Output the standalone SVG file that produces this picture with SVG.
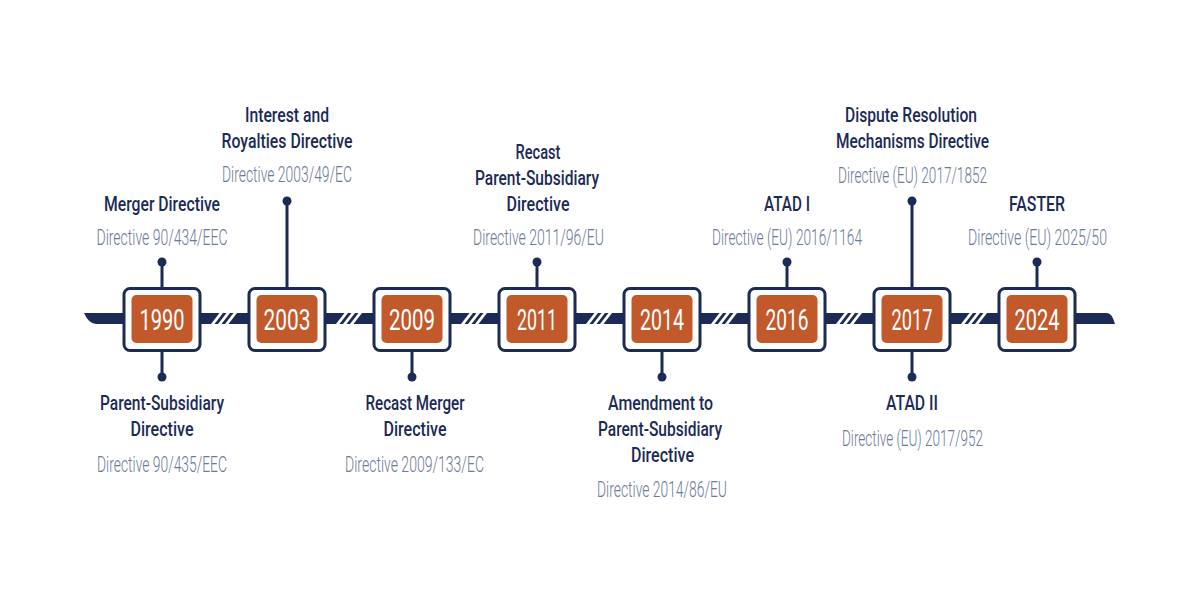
<svg xmlns="http://www.w3.org/2000/svg" xmlns:xlink="http://www.w3.org/1999/xlink" width="1200" height="600" viewBox="0 0 1200 600">
<style>
.box{fill:#ffffff;stroke:#1b2b55;stroke-width:3}
.inner{fill:#c2592b}
.year{font-family:Roboto,"Liberation Sans",sans-serif;font-size:30px;fill:#ffffff;text-anchor:middle}
.t{font-family:Roboto,"Liberation Sans",sans-serif;font-size:20px;font-weight:500;fill:#1b2b55;text-anchor:middle}
.s{font-family:Roboto,"Liberation Sans",sans-serif;font-size:22px;font-weight:300;fill:#6d7a9a;text-anchor:middle}
.stem{stroke:#1b2b55;stroke-width:3;fill:none}
.dot{fill:#1b2b55}
.bar{fill:#1b2b55}
.hatch{fill:#ffffff}
</style>
<defs>
<g id="hatch">
<polygon class="hatch" points="-13,324 -9.5,324 -1,313 -4.5,313"/>
<polygon class="hatch" points="-6,324 -2.5,324 6,313 2.5,313"/>
<polygon class="hatch" points="1,324 4.5,324 13,313 9.5,313"/>
</g>
</defs>
<rect width="1200" height="600" fill="#ffffff"/>
<g id="connectors">
<path class="bar" d="M84 313 H1107 Q1112 313 1115 324 H96 Q89 324 84 313 Z"/>
<use xlink:href="#hatch" x="224"/>
<use xlink:href="#hatch" x="349"/>
<use xlink:href="#hatch" x="474"/>
<use xlink:href="#hatch" x="599"/>
<use xlink:href="#hatch" x="724"/>
<use xlink:href="#hatch" x="849"/>
<use xlink:href="#hatch" x="974"/>
<line class="stem" x1="162" y1="262" x2="162" y2="288"/><circle class="dot" cx="162" cy="262" r="4.5"/>
<line class="stem" x1="162" y1="351" x2="162" y2="377"/><circle class="dot" cx="162" cy="377" r="4.5"/>
<line class="stem" x1="287" y1="201" x2="287" y2="288"/><circle class="dot" cx="287" cy="201" r="4.5"/>
<line class="stem" x1="412" y1="351" x2="412" y2="377"/><circle class="dot" cx="412" cy="377" r="4.5"/>
<line class="stem" x1="537" y1="262" x2="537" y2="288"/><circle class="dot" cx="537" cy="262" r="4.5"/>
<line class="stem" x1="662" y1="351" x2="662" y2="377"/><circle class="dot" cx="662" cy="377" r="4.5"/>
<line class="stem" x1="787" y1="262" x2="787" y2="288"/><circle class="dot" cx="787" cy="262" r="4.5"/>
<line class="stem" x1="912" y1="201" x2="912" y2="288"/><circle class="dot" cx="912" cy="201" r="4.5"/>
<line class="stem" x1="912" y1="351" x2="912" y2="377"/><circle class="dot" cx="912" cy="377" r="4.5"/>
<line class="stem" x1="1037" y1="262" x2="1037" y2="288"/><circle class="dot" cx="1037" cy="262" r="4.5"/>
</g>
<g id="n1990">
<rect class="box" x="124" y="288.5" width="76" height="62" rx="6"/>
<rect class="inner" x="131.5" y="295" width="61" height="48" rx="5"/>
<text class="year" x="162" y="330" textLength="45" lengthAdjust="spacingAndGlyphs">1990</text>
<text class="t" x="162" y="211" textLength="116" lengthAdjust="spacingAndGlyphs">Merger Directive</text>
<text class="s" x="162" y="245" textLength="131" lengthAdjust="spacingAndGlyphs">Directive 90/434/EEC</text>
<text class="t" x="162" y="410" textLength="124" lengthAdjust="spacingAndGlyphs">Parent-Subsidiary</text>
<text class="t" x="162" y="436" textLength="63" lengthAdjust="spacingAndGlyphs">Directive</text>
<text class="s" x="162" y="472" textLength="130" lengthAdjust="spacingAndGlyphs">Directive 90/435/EEC</text>
</g>
<g id="n2003">
<rect class="box" x="249" y="288.5" width="76" height="62" rx="6"/>
<rect class="inner" x="256.5" y="295" width="61" height="48" rx="5"/>
<text class="year" x="287" y="330" textLength="47" lengthAdjust="spacingAndGlyphs">2003</text>
<text class="t" x="287" y="122" textLength="84" lengthAdjust="spacingAndGlyphs">Interest and</text>
<text class="t" x="287" y="148" textLength="131" lengthAdjust="spacingAndGlyphs">Royalties Directive</text>
<text class="s" x="287" y="182" textLength="130" lengthAdjust="spacingAndGlyphs">Directive 2003/49/EC</text>
</g>
<g id="n2009">
<rect class="box" x="374" y="288.5" width="76" height="62" rx="6"/>
<rect class="inner" x="381.5" y="295" width="61" height="48" rx="5"/>
<text class="year" x="412" y="330" textLength="46" lengthAdjust="spacingAndGlyphs">2009</text>
<text class="t" x="415" y="410" textLength="99" lengthAdjust="spacingAndGlyphs">Recast Merger</text>
<text class="t" x="415" y="436" textLength="63" lengthAdjust="spacingAndGlyphs">Directive</text>
<text class="s" x="414.5" y="472" textLength="139" lengthAdjust="spacingAndGlyphs">Directive 2009/133/EC</text>
</g>
<g id="n2011">
<rect class="box" x="499" y="288.5" width="76" height="62" rx="6"/>
<rect class="inner" x="506.5" y="295" width="61" height="48" rx="5"/>
<text class="year" x="537" y="330" textLength="40" lengthAdjust="spacingAndGlyphs">2011</text>
<text class="t" x="538" y="159" textLength="45" lengthAdjust="spacingAndGlyphs">Recast</text>
<text class="t" x="537" y="185" textLength="124" lengthAdjust="spacingAndGlyphs">Parent-Subsidiary</text>
<text class="t" x="538" y="211" textLength="63" lengthAdjust="spacingAndGlyphs">Directive</text>
<text class="s" x="538.5" y="245" textLength="131" lengthAdjust="spacingAndGlyphs">Directive 2011/96/EU</text>
</g>
<g id="n2014">
<rect class="box" x="624" y="288.5" width="76" height="62" rx="6"/>
<rect class="inner" x="631.5" y="295" width="61" height="48" rx="5"/>
<text class="year" x="662" y="330" textLength="44" lengthAdjust="spacingAndGlyphs">2014</text>
<text class="t" x="660.5" y="410" textLength="105" lengthAdjust="spacingAndGlyphs">Amendment to</text>
<text class="t" x="660" y="436" textLength="124" lengthAdjust="spacingAndGlyphs">Parent-Subsidiary</text>
<text class="t" x="662.5" y="462" textLength="63" lengthAdjust="spacingAndGlyphs">Directive</text>
<text class="s" x="662" y="497" textLength="130" lengthAdjust="spacingAndGlyphs">Directive 2014/86/EU</text>
</g>
<g id="n2016">
<rect class="box" x="749" y="288.5" width="76" height="62" rx="6"/>
<rect class="inner" x="756.5" y="295" width="61" height="48" rx="5"/>
<text class="year" x="787" y="330" textLength="43" lengthAdjust="spacingAndGlyphs">2016</text>
<text class="t" x="787" y="211" textLength="46" lengthAdjust="spacingAndGlyphs">ATAD I</text>
<text class="s" x="787" y="245" textLength="150" lengthAdjust="spacingAndGlyphs">Directive (EU) 2016/1164</text>
</g>
<g id="n2017">
<rect class="box" x="874" y="288.5" width="76" height="62" rx="6"/>
<rect class="inner" x="881.5" y="295" width="61" height="48" rx="5"/>
<text class="year" x="912" y="330" textLength="41" lengthAdjust="spacingAndGlyphs">2017</text>
<text class="t" x="911" y="122" textLength="132" lengthAdjust="spacingAndGlyphs">Dispute Resolution</text>
<text class="t" x="912.5" y="148" textLength="153" lengthAdjust="spacingAndGlyphs">Mechanisms Directive</text>
<text class="s" x="912.5" y="183" textLength="149" lengthAdjust="spacingAndGlyphs">Directive (EU) 2017/1852</text>
<text class="t" x="912" y="410" textLength="52" lengthAdjust="spacingAndGlyphs">ATAD II</text>
<text class="s" x="912.5" y="446" textLength="141" lengthAdjust="spacingAndGlyphs">Directive (EU) 2017/952</text>
</g>
<g id="n2024">
<rect class="box" x="999" y="288.5" width="76" height="62" rx="6"/>
<rect class="inner" x="1006.5" y="295" width="61" height="48" rx="5"/>
<text class="year" x="1037" y="330" textLength="45" lengthAdjust="spacingAndGlyphs">2024</text>
<text class="t" x="1037" y="211" textLength="56" lengthAdjust="spacingAndGlyphs">FASTER</text>
<text class="s" x="1037.5" y="245" textLength="139" lengthAdjust="spacingAndGlyphs">Directive (EU) 2025/50</text>
</g>
</svg>
